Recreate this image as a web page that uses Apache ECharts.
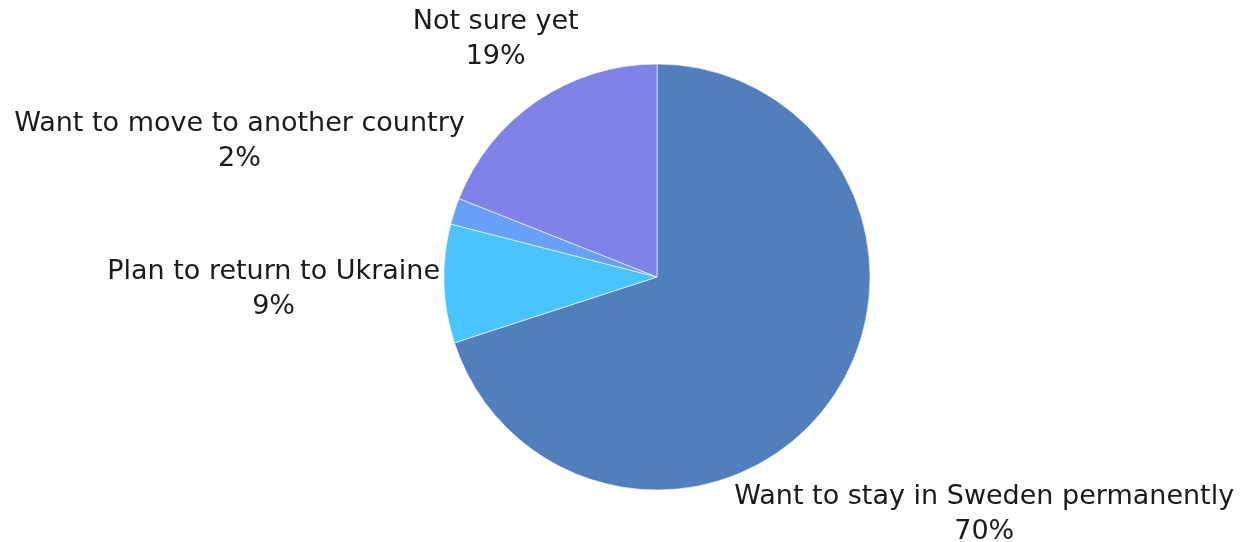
<!DOCTYPE html>
<html>
<head>
<meta charset="utf-8">
<script src="https://cdn.jsdelivr.net/npm/echarts@6/dist/echarts.min.js"></script>
<style>
  html, body { margin: 0; padding: 0; background: #ffffff; }
  #chart { width: 1247px; height: 542px; }
</style>
</head>
<body>
<div id="chart"></div>
<script>
// Future plans of respondents (share of answers, %)
const categories = [
  'Want to stay in Sweden permanently',
  'Plan to return to Ukraine',
  'Want to move to another country',
  'Not sure yet'
];
const shares = [70, 9, 2, 19];
const sliceColors = ['#517EBD', '#4AC4FF', '#66A0FA', '#7F82E6'];

const PIE_CENTER = [657, 277];
const PIE_RADIUS = 213;
const START_ANGLE = 90;
const LABEL_GAP = 4;

const total = shares.reduce((a, b) => a + b, 0);

// Mid angle of each slice (degrees, math orientation, clockwise from START_ANGLE)
function midAngle(index) {
  let before = 0;
  for (let i = 0; i < index; i++) before += shares[i];
  return START_ANGLE - (before + shares[index] / 2) / total * 360;
}

// Push a label box outward along the slice bisector until it clears the pie
function placeLabel(params) {
  const a = midAngle(params.dataIndex) * Math.PI / 180;
  const ux = Math.cos(a), uy = -Math.sin(a);
  const hw = params.labelRect.width / 2, hh = params.labelRect.height / 2;
  const need = PIE_RADIUS + LABEL_GAP;
  const clearance = (t) => {
    const px = Math.max(Math.abs(t * ux) - hw, 0);
    const py = Math.max(Math.abs(t * uy) - hh, 0);
    return Math.hypot(px, py);
  };
  let lo = 0, hi = 2000;
  for (let k = 0; k < 60; k++) {
    const mid = (lo + hi) / 2;
    if (clearance(mid) < need) lo = mid; else hi = mid;
  }
  return {
    x: PIE_CENTER[0] + hi * ux,
    y: PIE_CENTER[1] + hi * uy,
    align: 'center',
    verticalAlign: 'middle'
  };
}

const chart = echarts.init(document.getElementById('chart'), null, { renderer: 'canvas' });

chart.setOption({
  backgroundColor: '#ffffff',
  animation: false,
  series: [{
    type: 'pie',
    center: PIE_CENTER,
    radius: PIE_RADIUS,
    startAngle: START_ANGLE,
    clockwise: true,
    avoidLabelOverlap: false,
    itemStyle: { borderColor: 'rgba(255,255,255,0.6)', borderWidth: 1 },
    label: {
      show: true,
      position: 'outside',
      formatter: '{b}\n{c}%',
      fontFamily: 'DejaVu Sans',
      fontSize: 27,
      lineHeight: 35,
      color: '#1a1a1a'
    },
    labelLine: { show: false },
    labelLayout: placeLabel,
    emphasis: { disabled: true },
    data: categories.map((name, i) => ({
      name: name,
      value: shares[i],
      itemStyle: { color: sliceColors[i] }
    }))
  }]
});
</script>
</body>
</html>
